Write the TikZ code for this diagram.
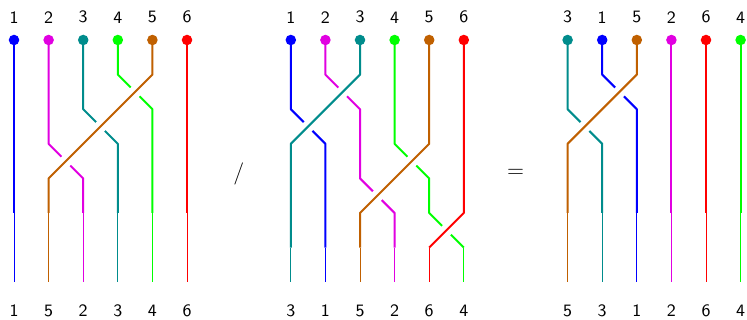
\documentclass[tikz,border=0pt]{standalone}
\usepackage{xcolor}
\usepackage{tikz}
\usetikzlibrary{positioning,backgrounds}
\definecolor{braidmag}{RGB}{225,0,225}
\definecolor{braidteal}{RGB}{0,140,140}
\definecolor{braidbrown}{RGB}{192,96,0}
\tikzset{
  knob/.style   ={circle, fill, inner sep=0pt, minimum size=5.2pt},
  idx/.style    ={font=\fontsize{8.6}{10}\sffamily, inner sep=0pt},
  rel/.style    ={font=\fontsize{11}{12}\sffamily, inner sep=0pt},
  strand/.style ={line width=1pt, line join=round},
  tail/.style   ={line width=0.5pt},
  over/.style   ={preaction={draw=white, line width=6pt}},
}

\begin{document}
\begin{tikzpicture}[x=0.6cm, y=0.6cm]
  \useasboundingbox (-0.405,-8.092) rectangle (21.185,1.156);

  % top ends: left word, middle word, result
  \foreach \c/\t [count=\k from 0] in {blue/1, braidmag/2, braidteal/3, green/4, braidbrown/5, red/6}{
    \node[knob, fill=\c] (a\t) at (\k,0) {};
    \node[idx, above=5.3pt of a\t] (at\t) {\t};
  }
  \foreach \c/\t [count=\k from 8] in {blue/1, braidmag/2, braidteal/3, green/4, braidbrown/5, red/6}{
    \node[knob, fill=\c] (b\t) at (\k,0) {};
    \node[idx, above=5.3pt of b\t] (bt\t) {\t};
  }
  \foreach \c/\t [count=\k from 16] in {braidteal/3, blue/1, braidbrown/5, braidmag/2, red/6, green/4}{
    \node[knob, fill=\c] (c\t) at (\k,0) {};
    \node[idx, above=5.3pt of c\t] (ct\t) {\t};
  }

  % bottom labels
  \foreach \t [count=\k from 0] in {1,5,2,3,4,6}
    \node[idx] (ab\k) at (\k,-7.82) {\t};
  \foreach \t [count=\k from 8] in {3,1,5,2,6,4}
    \node[idx] (bb\k) at (\k,-7.82) {\t};
  \foreach \t [count=\k from 16] in {5,3,1,2,6,4}
    \node[idx] (cb\k) at (\k,-7.82) {\t};

  \node[rel] (slash) at (6.5,-3.87) {/};
  \node[rel] (eq) at (14.5,-3.87) {=};

  \begin{scope}[on background layer]
    % left word
    \draw[strand, blue] (a1.center) -- ++(0,-5);
    \draw[strand, braidmag] (a2.center) -- ++(0,-3) -- ++(1,-1) -- ++(0,-1);
    \draw[strand, braidteal] (a3.center) -- ++(0,-2) -- ++(1,-1) -- ++(0,-2);
    \draw[strand, green] (a4.center) -- ++(0,-1) -- ++(1,-1) -- ++(0,-3);
    \draw[strand, red] (a6.center) -- ++(0,-5);
    \draw[strand, over, braidbrown] (a5.center) -- ++(0,-1) -- ++(-3,-3) -- ++(0,-1);
    \foreach \c [count=\k from 0] in {blue,braidbrown,braidmag,braidteal,green,red}
      \draw[tail, \c] (\k,-5) -- (\k,-7);

    % middle word
    \draw[strand, blue] (b1.center) -- ++(0,-2) -- ++(1,-1) -- ++(0,-3);
    \draw[strand, braidmag] (b2.center) -- ++(0,-1) -- ++(1,-1) -- ++(0,-2) -- ++(1,-1) -- ++(0,-1);
    \draw[strand, green] (b4.center) -- ++(0,-3) -- ++(1,-1) -- ++(0,-1) -- ++(1,-1);
    \draw[strand, over, braidteal] (b3.center) -- ++(0,-1) -- ++(-2,-2) -- ++(0,-3);
    \draw[strand, over, braidbrown] (b5.center) -- ++(0,-3) -- ++(-2,-2) -- ++(0,-1);
    \draw[strand, over, red] (b6.center) -- ++(0,-5) -- ++(-1,-1);
    \foreach \c [count=\k from 8] in {braidteal,blue,braidbrown,braidmag,red,green}
      \draw[tail, \c] (\k,-6) -- (\k,-7);

    % result
    \draw[strand, braidteal] (c3.center) -- ++(0,-2) -- ++(1,-1) -- ++(0,-2);
    \draw[strand, blue] (c1.center) -- ++(0,-1) -- ++(1,-1) -- ++(0,-3);
    \draw[strand, braidmag] (c2.center) -- ++(0,-5);
    \draw[strand, red] (c6.center) -- ++(0,-5);
    \draw[strand, green] (c4.center) -- ++(0,-5);
    \draw[strand, over, braidbrown] (c5.center) -- ++(0,-1) -- ++(-2,-2) -- ++(0,-2);
    \foreach \c [count=\k from 16] in {braidbrown,braidteal,blue,braidmag,red,green}
      \draw[tail, \c] (\k,-5) -- (\k,-7);
  \end{scope}
\end{tikzpicture}
\end{document}
